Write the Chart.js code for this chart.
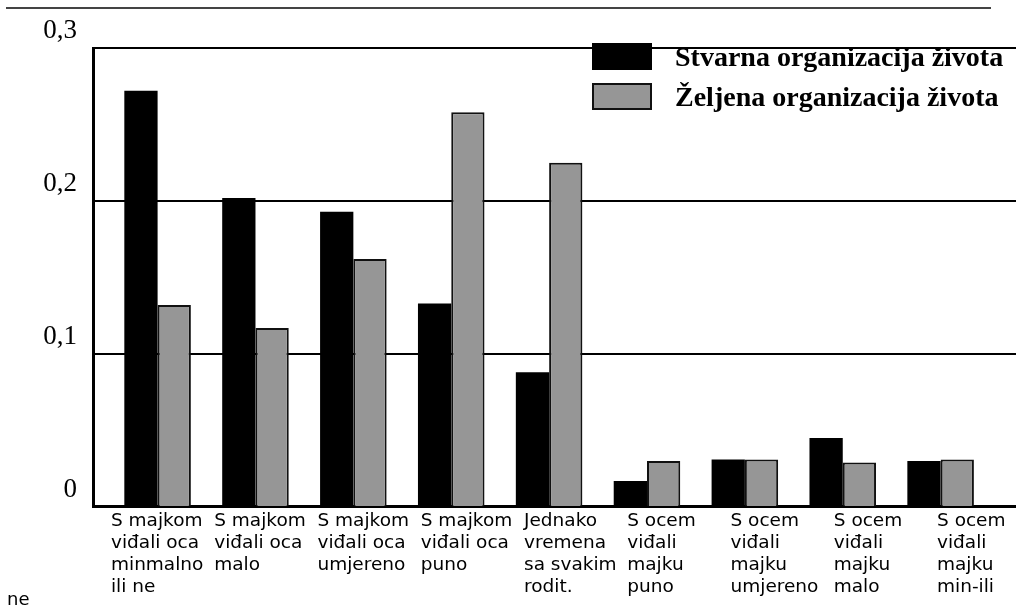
<!DOCTYPE html>
<html>
<head>
<meta charset="utf-8">
<script src="https://cdn.jsdelivr.net/npm/chart.js@4.4.1/dist/chart.umd.min.js"></script>
<style>
  html, body { margin: 0; padding: 0; background: #fff; }
  #wrap { position: relative; width: 1016px; height: 614px; }
  #topLine { position: absolute; left: 6px; top: 7px; width: 985px; border-top: 2px solid #444; }
  #legend { position: absolute; left: 592px; top: 43px; font: bold 28px "Liberation Serif", serif; color: #000; }
  .row { display: flex; align-items: center; height: 27px; margin-bottom: 13px; }
  .box { width: 60px; height: 27px; box-sizing: border-box; margin-right: 23px; }
  #stray { position: absolute; left: 7px; top: 588px; font: 18px "DejaVu Sans", sans-serif; color: #000; }
</style>
</head>
<body>
<div id="wrap">
  <canvas id="chart" width="1016" height="614"></canvas>
  <div id="topLine"></div>
  <div id="legend"></div>
  <div id="stray">ne</div>
</div>
<script>
const categories = [
    ['S majkom', 'viđali oca', 'minmalno', 'ili ne'],
    ['S majkom', 'viđali oca', 'malo'],
    ['S majkom', 'viđali oca', 'umjereno'],
    ['S majkom', 'viđali oca', 'puno'],
    ['Jednako', 'vremena', 'sa svakim', 'rodit.'],
    ['S ocem', 'viđali', 'majku', 'puno'],
    ['S ocem', 'viđali', 'majku', 'umjereno'],
    ['S ocem', 'viđali', 'majku', 'malo'],
    ['S ocem', 'viđali', 'majku', 'min-ili']
];
const seriesNames = ['Stvarna organizacija života', 'Željena organizacija života'];
const stvarna = [0.272, 0.202, 0.193, 0.133, 0.088, 0.017, 0.031, 0.045, 0.030];
const zeljena = [0.132, 0.117, 0.162, 0.258, 0.225, 0.030, 0.031, 0.029, 0.031];
const yTicks = [0, 0.1, 0.2, 0.3];

const toPoints = arr => arr.map((v, i) => ({ x: i, y: v }));

const ctx = document.getElementById('chart');

const chart = new Chart(ctx, {
    type: 'bar',
    data: {
        datasets: [{
            label: seriesNames[0],
            data: toPoints(stvarna),
            backgroundColor: '#000000',
            borderWidth: 0
        }, {
            label: seriesNames[1],
            data: toPoints(zeljena),
            backgroundColor: '#969696',
            borderColor: '#111111',
            borderWidth: 2
        }]
    },
    options: {
        responsive: false,
        animation: false,
        categoryPercentage: 0.68,
        barPercentage: 1.0,
        layout: { padding: { left: 0, right: 0, top: 48, bottom: 13 } },
        plugins: {
            legend: { display: false },
            tooltip: { enabled: false }
        },
        scales: {
            // bars sit on this one
            x: {
                type: 'linear',
                display: false,
                bounds: 'data',
                offset: false,
                min: -0.66,
                max: 8.77,
                grid: { offset: false },
                afterBuildTicks: s => { s.ticks = categories.map((c, i) => ({ value: i })); }
            },
            // category text sits on this one (labels run slightly wider than the bars)
            xl: {
                type: 'linear',
                position: 'bottom',
                axis: 'x',
                bounds: 'data',
                offset: false,
                min: -0.174,
                max: 8.765,
                afterBuildTicks: s => { s.ticks = categories.map((c, i) => ({ value: i })); },
                grid: { display: false, drawTicks: false, offset: false },
                border: { display: true, color: '#000', width: 3 },
                ticks: {
                    autoSkip: false,
                    maxRotation: 0,
                    minRotation: 0,
                    align: 'start',
                    padding: 3,
                    color: '#000',
                    font: { family: '"DejaVu Sans", sans-serif', size: 18.5, lineHeight: 1.19 },
                    callback: (v, i) => categories[i]
                }
            },
            y: {
                min: 0,
                max: 0.3,
                afterFit: s => { s.width = 93; },
                afterBuildTicks: s => { s.ticks = yTicks.map(v => ({ value: v })); },
                grid: { color: '#000', lineWidth: 2, drawTicks: false },
                border: { display: true, color: '#000', width: 3 },
                ticks: {
                    padding: 16,
                    labelOffset: -17,
                    color: '#000',
                    font: { family: '"Liberation Serif", serif', size: 27 },
                    callback: v => v === 0 ? '0' : v.toFixed(1).replace('.', ',')
                }
            }
        }
    }
});

// legend built from the dataset colours
const legend = document.getElementById('legend');
chart.data.datasets.forEach(ds => {
    const row = document.createElement('div');
    row.className = 'row';
    const box = document.createElement('div');
    box.className = 'box';
    box.style.background = ds.backgroundColor;
    if (ds.borderWidth) box.style.border = '2px solid ' + ds.borderColor;
    const txt = document.createElement('span');
    txt.textContent = ds.label;
    row.appendChild(box);
    row.appendChild(txt);
    legend.appendChild(row);
});
</script>
</body>
</html>
